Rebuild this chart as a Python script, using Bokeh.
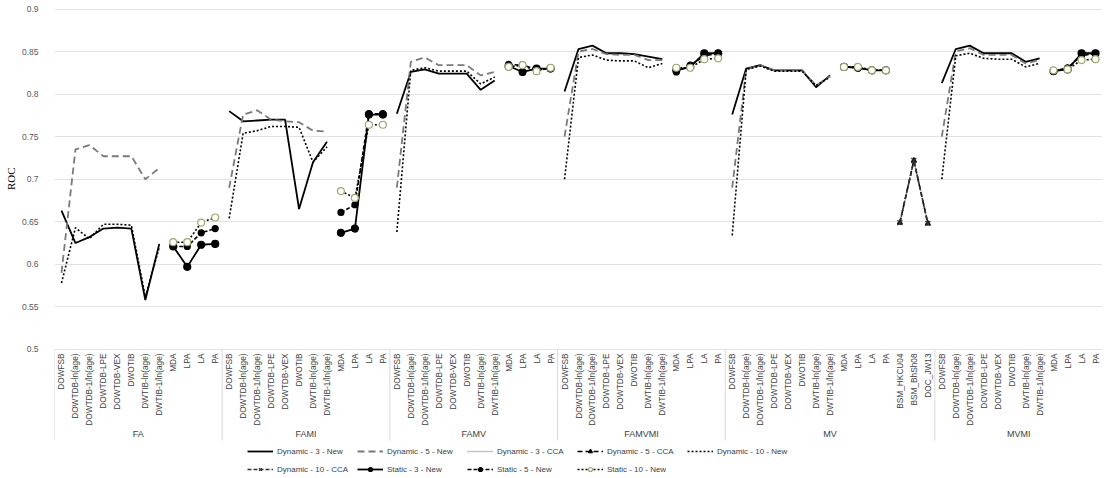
import math
from bokeh.plotting import figure
from bokeh.models import (FactorRange, ColumnDataSource, Legend, LegendItem,
                          FixedTicker, CustomJSTickFormatter, Range1d, Title)
from bokeh.core.properties import value
from bokeh.embed import file_html
from bokeh.resources import INLINE

groups = ["FA", "FAMI", "FAMV", "FAMVMI", "MV", "MVMI"]
dyn_cats = ["DOWFSB", "DOWTDB-ln(age)", "DOWTDB-1/ln(age)", "DOWTDB-LPE",
            "DOWTDB-VEX", "DWOTIB", "DWTIB-ln(age)", "DWTIB-1/ln(age)"]
static_cats = ["MDA", "LPA", "LA", "PA"]
cca_cats = ["BSM_HKCU04", "BSM_BhSh08", "DOC_JW13"]
cca_group = "MV"

# Dynamic series: 8 values per group (FA, FAMI, FAMV, FAMVMI, MV, MVMI)
dyn3_new = [
    0.663, 0.625, 0.632, 0.642, 0.643, 0.642, 0.558, 0.624,
    0.780, 0.768, 0.769, 0.770, 0.770, 0.665, 0.720, 0.744,
    0.777, 0.826, 0.829, 0.824, 0.824, 0.824, 0.805, 0.816,
    0.803, 0.853, 0.857, 0.848, 0.848, 0.847, 0.844, 0.841,
    0.776, 0.830, 0.834, 0.828, 0.828, 0.828, 0.808, 0.822,
    0.813, 0.853, 0.857, 0.848, 0.848, 0.848, 0.838, 0.842,
]
dyn5_new = [
    0.590, 0.735, 0.740, 0.727, 0.727, 0.727, 0.700, 0.713,
    0.690, 0.776, 0.781, 0.770, 0.768, 0.767, 0.757, 0.756,
    0.690, 0.838, 0.843, 0.834, 0.834, 0.834, 0.822, 0.826,
    0.750, 0.850, 0.853, 0.847, 0.846, 0.846, 0.840, 0.840,
    0.690, 0.829, 0.834, 0.828, 0.828, 0.828, 0.810, 0.821,
    0.750, 0.850, 0.854, 0.846, 0.846, 0.846, 0.836, 0.840,
]
dyn10_new = [
    0.578, 0.643, 0.630, 0.647, 0.647, 0.646, 0.562, 0.620,
    0.654, 0.754, 0.757, 0.762, 0.762, 0.761, 0.720, 0.738,
    0.638, 0.828, 0.831, 0.827, 0.827, 0.827, 0.812, 0.820,
    0.700, 0.843, 0.846, 0.840, 0.839, 0.839, 0.831, 0.836,
    0.634, 0.829, 0.833, 0.827, 0.827, 0.827, 0.810, 0.820,
    0.700, 0.845, 0.848, 0.842, 0.841, 0.841, 0.832, 0.836,
]
# CCA series (MV group only)
dyn3_cca = [0.649, 0.722, 0.648]
dyn5_cca = [0.649, 0.722, 0.648]
dyn10_cca = [0.649, 0.722, 0.648]
# Static series: 4 values per group
stat3_new = [
    0.621, 0.597, 0.623, 0.624,
    0.637, 0.642, 0.776, 0.776,
    0.833, 0.826, 0.830, 0.830,
    0.828, 0.832, 0.848, 0.848,
    0.832, 0.831, 0.828, 0.828,
    0.827, 0.829, 0.848, 0.848,
]
stat5_new = [
    0.621, 0.621, 0.637, 0.642,
    0.661, 0.670, 0.777, 0.777,
    0.835, 0.834, 0.829, 0.830,
    0.826, 0.834, 0.845, 0.848,
    0.832, 0.831, 0.828, 0.828,
    0.827, 0.831, 0.845, 0.848,
]
stat10_new = [
    0.626, 0.626, 0.649, 0.655,
    0.686, 0.678, 0.764, 0.764,
    0.832, 0.834, 0.827, 0.831,
    0.831, 0.831, 0.841, 0.842,
    0.832, 0.832, 0.828, 0.828,
    0.828, 0.829, 0.840, 0.841,
]
y_ticks = [0.5, 0.55, 0.6, 0.65, 0.7, 0.75, 0.8, 0.85, 0.9]

# ---- build factors ----
factors = []
for g in groups:
    cats = dyn_cats + static_cats + (cca_cats if g == cca_group else [])
    factors += [(g, c) for c in cats]

NAN = float("nan")


def make_y(dyn=None, stat=None, cca=None):
    d = {f: NAN for f in factors}
    if dyn is not None:
        for gi, g in enumerate(groups):
            for ci, c in enumerate(dyn_cats):
                d[(g, c)] = dyn[gi * len(dyn_cats) + ci]
    if stat is not None:
        for gi, g in enumerate(groups):
            for ci, c in enumerate(static_cats):
                d[(g, c)] = stat[gi * len(static_cats) + ci]
    if cca is not None:
        for ci, c in enumerate(cca_cats):
            d[(cca_group, c)] = cca[ci]
    return [d[f] for f in factors]


# frame reaches below the value axis so that the category labels and the
# legend can be drawn inside it (~851 px per ROC unit)
Y_TOP = 0.9053
Y_LOW = 0.3530
SEP_DEPTH = 0.107
base = y_ticks[0]

p = figure(x_range=FactorRange(*factors, range_padding=0, group_padding=0,
                               factor_padding=0),
           y_range=Range1d(Y_LOW, Y_TOP),
           frame_width=1048, frame_height=470,
           min_border_left=49, min_border_right=0, min_border_top=4,
           min_border_bottom=0,
           output_backend="svg", toolbar_location=None)
p.outline_line_color = None
p.xgrid.grid_line_color = None
p.ygrid.grid_line_color = "#e2e2e2"
p.ygrid.grid_line_width = 1.2
p.xaxis.visible = False

p.yaxis.ticker = FixedTicker(ticks=y_ticks)
p.yaxis.formatter = CustomJSTickFormatter(
    code="return tick.toFixed(2).replace(/0+$/, '').replace(/\\.$/, '');")
p.yaxis.axis_line_color = None
p.yaxis.major_tick_line_color = None
p.yaxis.minor_tick_line_color = None
p.yaxis.major_label_text_font_size = "8.5px"
p.yaxis.major_label_text_color = "#595959"
p.yaxis.major_label_text_font = "Liberation Sans"
p.yaxis.major_label_standoff = 10

p.add_layout(Title(text="ROC", align="right", offset=163,
                   text_font="Liberation Serif", text_font_size="11px",
                   text_font_style="normal", text_color="#000000",
                   standoff=4), "left")

# category axis drawn inside the frame
lbl_src = ColumnDataSource(dict(x=factors, y=[base] * len(factors),
                                t=[f[1] for f in factors]))
p.text("x", "y", text="t", source=lbl_src, angle=math.pi / 2,
       text_align="right", text_baseline="middle", y_offset=4,
       text_font=value("Liberation Sans"), text_font_size="8.3px",
       text_color="#404040")
grp_src = ColumnDataSource(dict(x=groups, y=[base] * len(groups), t=groups))
p.text("x", "y", text="t", source=grp_src, text_align="center",
       text_baseline="middle", y_offset=85,
       text_font=value("Liberation Sans"), text_font_size="9px",
       text_color="#404040")
sep_x = [(g, (dyn_cats + static_cats + (cca_cats if g == cca_group else []))[0], -0.5)
         for g in groups] + [(groups[-1], static_cats[-1], 0.5)]
p.segment(x0=sep_x, x1=sep_x, y0=[base] * len(sep_x),
          y1=[base - SEP_DEPTH] * len(sep_x), line_color="#d9d9d9",
          line_width=1)

items = []


def add_series(name, y, color, dash, width, marker=None, msize=6,
               mfill=None, mline=None):
    src = ColumnDataSource(dict(x=factors, y=y))
    rs = [p.line("x", "y", source=src, line_color=color, line_dash=dash,
                 line_width=width)]
    if marker is not None:
        rs.append(p.scatter("x", "y", source=src, marker=marker, size=msize,
                            fill_color=mfill if mfill else color,
                            line_color=mline if mline else color,
                            line_width=1.2))
    items.append(LegendItem(label=name, renderers=rs))


add_series("Dynamic - 3 - New", make_y(dyn=dyn3_new), "#000000", "solid", 1.8)
add_series("Dynamic - 5 - New", make_y(dyn=dyn5_new), "#7a7a7a", "7 4", 1.8)
add_series("Dynamic - 3 - CCA", make_y(cca=dyn3_cca), "#8a8a8a", "1 1", 1.3)
add_series("Dynamic - 5 - CCA", make_y(cca=dyn5_cca), "#000000", "5 3", 1.6,
           marker="triangle", msize=5)
add_series("Dynamic - 10 - New", make_y(dyn=dyn10_new), "#000000", "2 2", 1.6)
add_series("Dynamic - 10 - CCA", make_y(cca=dyn10_cca), "#333333", "4 2", 1.6,
           marker="x", msize=7)
add_series("Static - 3 - New", make_y(stat=stat3_new), "#000000", "solid", 1.8,
           marker="circle", msize=7)
add_series("Static - 5 - New", make_y(stat=stat5_new), "#000000", "4 2", 1.6,
           marker="circle", msize=6)
add_series("Static - 10 - New", make_y(stat=stat10_new), "#000000", "2 2", 1.6,
           marker="circle", msize=7, mfill="#ffffff", mline="#9aa86b")

legend = Legend(items=items, orientation="horizontal", ncols=5,
                location=(193, 0), border_line_color=None,
                background_fill_alpha=0, label_text_font_size="8px",
                label_text_color="#404040", label_text_font="Liberation Sans",
                glyph_width=26, glyph_height=10, label_height=10,
                label_width=72, label_standoff=4, spacing=8, padding=0,
                margin=0)
p.add_layout(legend, "center")

open("out.html", "w").write(file_html(p, INLINE))
